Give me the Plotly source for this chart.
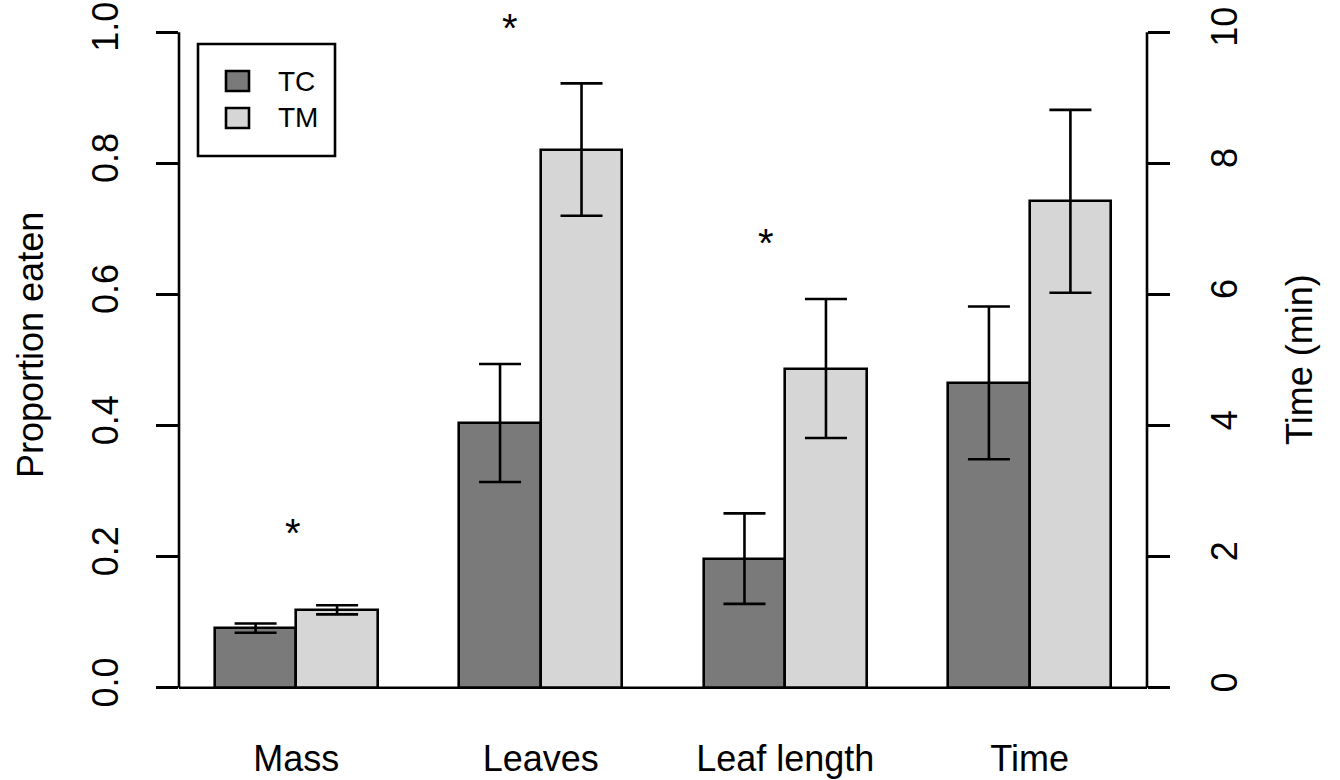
import plotly.graph_objects as go

# ---- data -------------------------------------------------------------
categories = ["Mass", "Leaves", "Leaf length", "Time"]
groups = ["TC", "TM"]
# first three are proportions eaten (left axis), last is time in minutes (right axis)
tc_mean = [0.091, 0.404, 0.197, 4.65]
tc_se = [0.007, 0.090, 0.069, 1.165]
tm_mean = [0.119, 0.821, 0.487, 7.42]
tm_se = [0.007, 0.101, 0.106, 1.395]
# significance markers: x in bar units, height on the left axis
sig_x = [1.96, 4.62, 7.77]
sig_y = [0.244, 1.014, 0.686]

left_ticks = [0.0, 0.2, 0.4, 0.6, 0.8, 1.0]
right_ticks = [0, 2, 4, 6, 8, 10]

# ---- style ------------------------------------------------------------
fill = {"TC": "#7a7a7a", "TM": "#d6d6d6"}
LW = 2.6
FONT = "Liberation Sans, Arial, Helvetica, sans-serif"
FS = 36
W, H = 1340, 780
ML, MR, MT, MB = 179, 193, 6, 66
PW, PH = W - ML - MR, H - MT - MB


def px(x):
    return (x - ML) / PW


def py(y):
    return (H - MB - y) / PH


# barplot geometry: each group = 1 unit gap + 2 unit-wide bars
n = len(categories)
left_edge = [1 + 3 * i for i in range(n)]
centers = {"TC": [e + 0.5 for e in left_edge], "TM": [e + 1.5 for e in left_edge]}
means = {"TC": tc_mean, "TM": tm_mean}
ses = {"TC": tc_se, "TM": tm_se}

fig = go.Figure()
for g in groups:
    for sl, axis in ((slice(0, 3), "y"), (slice(3, 4), "y2")):
        fig.add_trace(go.Bar(
            x=centers[g][sl], y=means[g][sl], width=1, yaxis=axis,
            name=g, showlegend=False,
            marker=dict(color=fill[g], line=dict(color="black", width=LW)),
            error_y=dict(type="data", array=ses[g][sl], visible=True,
                         color="black", thickness=LW, width=21),
        ))

shapes = [
    # baseline
    dict(type="line", xref="paper", yref="y", x0=0, x1=1, y0=0, y1=0,
         line=dict(color="black", width=LW)),
    # left axis spine (ticks range only)
    dict(type="line", xref="paper", yref="y", x0=0, x1=0,
         y0=left_ticks[0], y1=left_ticks[-1], line=dict(color="black", width=LW)),
    # right axis spine
    dict(type="line", xref="paper", yref="y2", x0=1, x1=1,
         y0=right_ticks[0], y1=right_ticks[-1], line=dict(color="black", width=LW)),
    # legend box
    dict(type="rect", xref="paper", yref="paper", x0=px(198), x1=px(335),
         y0=py(44), y1=py(156), line=dict(color="black", width=LW),
         fillcolor="white", layer="above"),
]
annotations = []
for i, g in enumerate(groups):
    yc = 81 + 37 * i
    shapes.append(dict(type="rect", xref="paper", yref="paper",
                       x0=px(226), x1=px(249), y0=py(yc - 10), y1=py(yc + 10),
                       line=dict(color="black", width=LW), fillcolor=fill[g],
                       layer="above"))
    annotations.append(dict(text=g, xref="paper", yref="paper", x=px(276),
                            y=py(yc), xanchor="left", yanchor="middle",
                            showarrow=False, font=dict(size=28)))

for sx, sy in zip(sig_x, sig_y):
    annotations.append(dict(text="*", xref="x", yref="y", x=sx, y=sy,
                            xanchor="center", yanchor="middle", yshift=-5,
                            showarrow=False, font=dict(size=40)))

annotations += [
    dict(text="Proportion eaten", xref="paper", yref="paper", x=px(31), y=py(345),
         textangle=-90, showarrow=False, xanchor="center", yanchor="middle",
         font=dict(size=FS)),
    dict(text="Time (min)", xref="paper", yref="paper", x=px(1299), y=py(360),
         textangle=-90, showarrow=False, xanchor="center", yanchor="middle",
         font=dict(size=FS)),
]

fig.update_layout(
    width=W, height=H,
    margin=dict(l=ML, r=MR, t=MT, b=MB, pad=0),
    paper_bgcolor="white", plot_bgcolor="white",
    font=dict(family=FONT, size=FS, color="black"),
    barmode="overlay", bargap=0,
    shapes=shapes, annotations=annotations,
    xaxis=dict(range=[0.56, 12.44], tickvals=[e + 1 for e in left_edge],
               ticktext=categories, ticks="", showline=False, showgrid=False,
               zeroline=False, ticklabelstandoff=20, automargin=False),
    yaxis=dict(range=[-0.04, 1.04], tickvals=left_ticks,
               ticktext=[f"{v:.1f}" for v in left_ticks], tickangle=-90,
               ticks="outside", ticklen=22, tickwidth=LW, tickcolor="black",
               showline=False, showgrid=False, zeroline=False,
               ticklabelstandoff=24, automargin=False),
    yaxis2=dict(range=[-0.4, 10.4], tickvals=right_ticks,
                ticktext=[str(v) for v in right_ticks], tickangle=-90,
                overlaying="y", side="right", anchor="x",
                ticks="outside", ticklen=22, tickwidth=LW, tickcolor="black",
                showline=False, showgrid=False, zeroline=False,
                ticklabelstandoff=24, automargin=False),
)

fig.write_html("out.html")
